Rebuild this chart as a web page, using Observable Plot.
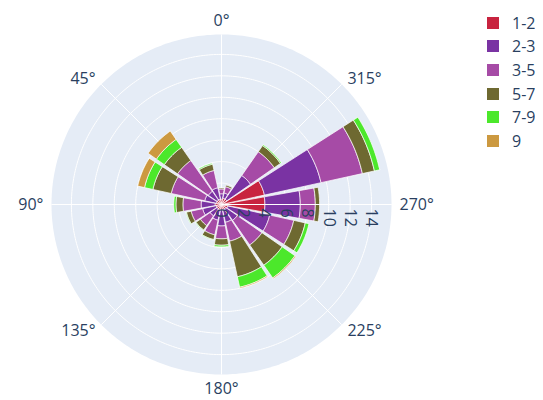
<!DOCTYPE html>
<html>
<head>
<meta charset="utf-8">
<script src="https://cdn.jsdelivr.net/npm/d3@7"></script>
<script src="https://cdn.jsdelivr.net/npm/@observablehq/plot@0.6"></script>
<style>
  body { margin: 0; background: #fff; font-family: "Open Sans", sans-serif; }
  #wrap { position: relative; width: 543px; height: 400px; }
  #legend { position: absolute; left: 487px; top: 11px; }
  .lg-swatch { height: 23.6px; padding-bottom: 0 !important; }
  .lg-swatch svg { margin-right: 13px !important; }
  .lg-swatch-label { font-size: 16px; color: #2a3f5f; font-family: "Open Sans", sans-serif; }
</style>
</head>
<body>
<div id="wrap"><div id="chart"></div><div id="legend"></div></div>
<script>
// Wind directions (degrees) and stacked frequency categories
const directions = [0, 22.5, 45, 67.5, 90, 112.5, 135, 157.5, 180, 202.5, 225, 247.5, 270, 292.5, 315, 337.5];
const categories = ["1-2", "2-3", "3-5", "5-7", "7-9", "9"];
const colors = ["#C8233F", "#7A33A3", "#A64BA6", "#6E6931", "#4CE82B", "#CC9940"];

// values per category, one entry per direction (same order as directions)
const s12 = [0.5, 0.5, 0.5, 0.5, 0.6, 0.5, 0.5, 0.5, 0.5, 0.5, 0.5, 0.6, 4.05, 4.1, 0.6, 0.6];
const s23 = [0.5, 1.1, 1.0, 1.1, 1.3, 1.3, 0.8, 1.0, 1.5, 1.2, 1.3, 4.0, 3.3, 5.4, 2.7, 0.5];
const s35 = [0.45, 1.65, 3.5, 3.2, 1.7, 1.1, 1.1, 1.4, 1.2, 1.8, 2.8, 2.3, 1.4, 3.95, 2.7, 0.6];
const s57 = [0.1, 0.6, 1.5, 1.75, 0.65, 0.45, 0.5, 0.45, 0.6, 3.4, 2.3, 1.1, 0.4, 1.15, 0.7, 0.15];
const s79 = [0, 0.1, 0.9, 0.8, 0.2, 0.05, 0.05, 0.05, 0.15, 1.0, 1.45, 0.35, 0, 0.5, 0.1, 0];
const s9  = [0, 0, 0.95, 0.65, 0, 0, 0, 0, 0, 0.1, 0.1, 0, 0, 0, 0, 0];

const radialTicks = [0, 2, 4, 6, 8, 10, 12, 14];
const angularTicks = [0, 45, 90, 135, 180, 225, 270, 315];

const series = [s12, s23, s35, s57, s79, s9];
const step = 360 / directions.length;
const barWidth = step * 0.9;              // polar bargap 0.1
const rMax = d3.max(directions, (d, i) => d3.sum(series, s => s[i])) * 1.05;
const lat = r => 90 - Math.max(r, 0.001); // radius -> latitude (pole = centre)

function wedge(theta, r0, r1, cat) {
  const a0 = theta - barWidth / 2, a1 = theta + barWidth / 2, n = 24;
  const outer = d3.range(n + 1).map(k => [a0 + (a1 - a0) * k / n, lat(r1)]);
  const inner = d3.range(n + 1).map(k => [a1 - (a1 - a0) * k / n, lat(Math.max(r0, 0.02))]);
  const coords = [...outer, ...inner, outer[0]];
  const f = {type: "Feature", properties: {cat}, geometry: {type: "Polygon", coordinates: [coords]}};
  if (d3.geoArea(f) > 2 * Math.PI) coords.reverse();
  return f;
}

const bars = [];
directions.forEach((theta, i) => {
  let acc = 0;
  series.forEach((s, j) => {
    const v = s[i];
    if (v > 0) bars.push(wedge(theta, acc, acc + v, categories[j]));
    acc += v;
  });
});

const disk = d3.geoCircle().center([0, 90]).radius(rMax).precision(1)();
const rings = radialTicks.filter(d => d > 0).map(r => d3.geoCircle().center([0, 90]).radius(r).precision(1)());
const labelR = rMax + 0.75;
const txt = {fontSize: 16, fill: "#2a3f5f"};

const chart = Plot.plot({
  width: 543,
  height: 400,
  marginLeft: 51,
  marginRight: 152,
  marginTop: 34,
  marginBottom: 26,
  projection: {type: "azimuthal-equidistant", rotate: [180, -90], domain: disk, clip: false},
  color: {type: "categorical", domain: categories, range: colors},
  style: {fontFamily: "'Open Sans', sans-serif", background: "#fff", overflow: "visible"},
  marks: [
    Plot.geo(disk, {fill: "#E5ECF6", stroke: "none"}),
    Plot.geo(rings, {stroke: "#fff", strokeWidth: 1, fill: "none"}),
    Plot.link(angularTicks, {x1: d => d, y1: lat(0), x2: d => d, y2: lat(rMax), stroke: "#fff", strokeWidth: 1}),
    Plot.geo(bars, {fill: d => d.properties.cat, stroke: "#fff", strokeWidth: 0.8, strokeOpacity: 0.9}),
    Plot.link([270], {x1: d => d, y1: lat(0), x2: d => d, y2: lat(rMax), stroke: "#fff", strokeWidth: 1.2}),
    Plot.text(radialTicks, {x: 270, y: d => lat(d), text: d => String(d), rotate: 90, textAnchor: "start", lineAnchor: "middle", dy: 4, className: "rtick", ...txt}),
    Plot.text(angularTicks.filter(d => d === 0), {x: d => d, y: lat(labelR), text: d => d + "°", textAnchor: "middle", lineAnchor: "bottom", ...txt}),
    Plot.text(angularTicks.filter(d => d === 180), {x: d => d, y: lat(labelR), text: d => d + "°", textAnchor: "middle", lineAnchor: "top", ...txt}),
    Plot.text(angularTicks.filter(d => d > 0 && d < 180), {x: d => d, y: lat(labelR), text: d => d + "°", textAnchor: "end", lineAnchor: "middle", ...txt}),
    Plot.text(angularTicks.filter(d => d > 180), {x: d => d, y: lat(labelR), text: d => d + "°", textAnchor: "start", lineAnchor: "middle", ...txt})
  ]
});
// make sure the radial tick labels are turned 90° (as in the reference)
d3.select(chart).selectAll(".rtick text").each(function () {
  const t = this.getAttribute("transform") || "";
  if (!/rotate/.test(t)) this.setAttribute("transform", t + " rotate(90)");
});
document.getElementById("chart").appendChild(chart);

const legend = Plot.legend({
  color: {type: "categorical", domain: categories, range: colors},
  legend: "swatches",
  columns: 1,
  swatchSize: 12,
  className: "lg",
  style: {fontSize: "16px", fontFamily: "'Open Sans', sans-serif", color: "#2a3f5f", margin: 0}
});
document.getElementById("legend").appendChild(legend);
</script>
</body>
</html>
